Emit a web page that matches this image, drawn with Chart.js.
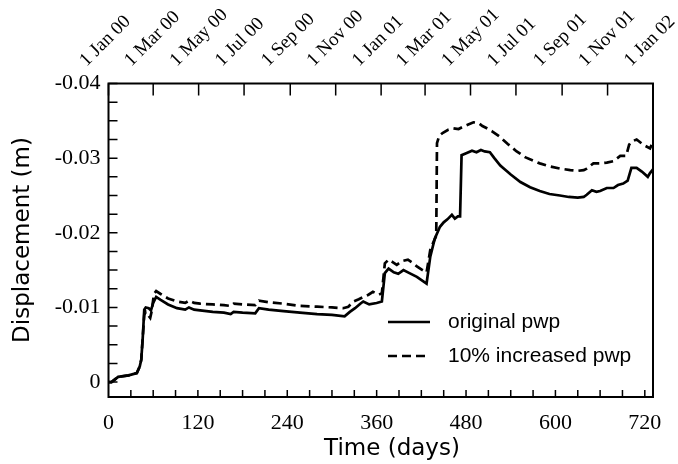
<!DOCTYPE html>
<html>
<head>
<meta charset="utf-8">
<script src="https://cdn.jsdelivr.net/npm/chart.js@4"></script>
<style>
  html, body { margin: 0; padding: 0; background: #fff; }
  #wrap { width: 678px; height: 464px; }
</style>
</head>
<body>
<div id="wrap"><canvas id="dispChart" width="678" height="464"></canvas></div>
<script>
// days since 1 Jan 2000, displacement in m
const origDays = [0, 4, 13, 27, 38, 42, 44, 46, 48, 50, 54, 57, 60, 64, 70, 80, 92, 103, 108, 115, 123, 140, 155, 164, 168, 180, 197, 202, 215, 235, 257, 280, 300, 317, 324, 331, 338, 342, 350, 360, 367, 371, 376, 383, 389, 396, 404, 414, 427, 432, 438, 445, 450, 455, 461, 465, 469, 472, 474, 481, 488, 494, 500, 505, 512, 518, 526, 540, 553, 566, 579, 592, 606, 618, 630, 638, 642, 649, 655, 660, 669, 678, 684, 691, 697, 702, 709, 716, 724, 727, 731];
const origDisp = [0, 0, -0.0007, -0.0009, -0.0012, -0.0021, -0.0030, -0.0060, -0.0097, -0.0100, -0.0099, -0.0096, -0.0106, -0.0114, -0.0110, -0.0104, -0.0099, -0.0097, -0.0100, -0.0097, -0.0096, -0.0094, -0.0093, -0.0091, -0.0094, -0.0093, -0.0092, -0.0099, -0.0097, -0.0095, -0.0093, -0.0091, -0.0090, -0.0088, -0.0094, -0.0099, -0.0105, -0.0108, -0.0104, -0.0106, -0.0108, -0.0146, -0.0152, -0.0147, -0.0145, -0.0150, -0.0146, -0.0141, -0.0132, -0.0168, -0.0192, -0.0208, -0.0214, -0.0218, -0.0224, -0.0219, -0.0222, -0.0222, -0.0304, -0.0307, -0.0310, -0.0308, -0.0311, -0.0309, -0.0308, -0.0300, -0.0290, -0.0278, -0.0268, -0.0261, -0.0256, -0.0252, -0.0250, -0.0248, -0.0247, -0.0248, -0.0251, -0.0257, -0.0255, -0.0256, -0.0260, -0.0260, -0.0264, -0.0266, -0.0270, -0.0287, -0.0287, -0.0282, -0.0275, -0.0280, -0.0285];

const incDays = [0, 4, 13, 27, 38, 42, 44, 46, 48, 50, 53, 56, 58, 61, 64, 70, 80, 92, 103, 108, 115, 123, 140, 155, 164, 168, 180, 197, 202, 215, 235, 257, 280, 300, 315, 322, 329, 336, 342, 349, 355, 363, 367, 371, 376, 381, 387, 394, 402, 408, 414, 420, 427, 432, 436, 440, 441, 444, 449, 456, 463, 470, 476, 483, 490, 497, 502, 508, 515, 525, 536, 548, 560, 579, 592, 606, 620, 630, 638, 642, 651, 660, 669, 678, 687, 695, 699, 702, 709, 718, 727, 731];
const incDisp = [0, 0, -0.0007, -0.0009, -0.0012, -0.0021, -0.0030, -0.0060, -0.0090, -0.0094, -0.0090, -0.0086, -0.0095, -0.0118, -0.0122, -0.0118, -0.0112, -0.0108, -0.0106, -0.0109, -0.0106, -0.0105, -0.0104, -0.0103, -0.0102, -0.0105, -0.0104, -0.0103, -0.0109, -0.0107, -0.0105, -0.0102, -0.0101, -0.0100, -0.0099, -0.0101, -0.0108, -0.0111, -0.0114, -0.0117, -0.0121, -0.0117, -0.0119, -0.0159, -0.0164, -0.0161, -0.0157, -0.0162, -0.0164, -0.0160, -0.0155, -0.0151, -0.0147, -0.0177, -0.0187, -0.0196, -0.0320, -0.0330, -0.0334, -0.0338, -0.0340, -0.0339, -0.0342, -0.0345, -0.0348, -0.0347, -0.0343, -0.0340, -0.0336, -0.0329, -0.0319, -0.0309, -0.0301, -0.0293, -0.0289, -0.0286, -0.0284, -0.0283, -0.0284, -0.0286, -0.0293, -0.0293, -0.0294, -0.0296, -0.0303, -0.0303, -0.0318, -0.0322, -0.0325, -0.0318, -0.0313, -0.0322];

const seriesNames = ["original pwp", "10% increased pwp"];
const yTicks = [-0.04, -0.03, -0.02, -0.01, 0];
const xTicks = [0, 120, 240, 360, 480, 600, 720];
const dateDays = [0, 60, 121, 182, 244, 305, 366, 425, 486, 547, 609, 670, 731];
const dateLabels = ["1 Jan 00", "1 Mar 00", "1 May 00", "1 Jul 00", "1 Sep 00", "1 Nov 00", "1 Jan 01", "1 Mar 01", "1 May 01", "1 Jul 01", "1 Sep 01", "1 Nov 01", "1 Jan 02"];

const serif = "'Liberation Serif', 'Times New Roman', serif";
const sans = "'DejaVu Sans', sans-serif";
const legendFont = "'Liberation Sans', Arial, sans-serif";

// border, inward ticks, top date labels, titles and legend
const framePlugin = {
  id: "frame",
  afterDraw(chart) {
    const { ctx, chartArea: a, scales } = chart;
    const x = scales.x, y = scales.y, xTop = scales.xTop;
    ctx.save();
    ctx.strokeStyle = "#000";
    ctx.fillStyle = "#000";
    ctx.lineWidth = 2;
    ctx.strokeRect(a.left, a.top, a.right - a.left, a.bottom - a.top);

    ctx.lineWidth = 1.5;
    ctx.beginPath();
    for (let v = -0.04; v <= 0.0001; v += 0.0025) {
      const py = y.getPixelForValue(v);
      ctx.moveTo(a.left, py);
      ctx.lineTo(a.left + 9, py);
    }
    for (let d = 30; d <= 720; d += 30) {
      const px = x.getPixelForValue(d);
      ctx.moveTo(px, a.bottom);
      ctx.lineTo(px, a.bottom - 7);
    }
    dateDays.forEach((d) => {
      const px = xTop.getPixelForValue(d);
      ctx.moveTo(px, a.top);
      ctx.lineTo(px, a.top + 12);
    });
    ctx.stroke();

    // rotated date labels, baseline starting left of and below the tick
    ctx.font = "19px " + serif;
    ctx.textAlign = "left";
    ctx.textBaseline = "alphabetic";
    dateDays.forEach((d, i) => {
      const px = xTop.getPixelForValue(d);
      ctx.save();
      ctx.translate(px - 22, 67);
      ctx.rotate(-Math.PI / 4);
      ctx.fillText(dateLabels[i], 0, 0);
      ctx.restore();
    });

    // axis titles
    ctx.textAlign = "center";
    ctx.textBaseline = "middle";
    ctx.font = "23px " + sans;
    ctx.fillText("Time (days)", 392, 449);
    ctx.save();
    ctx.translate(23, 240);
    ctx.rotate(-Math.PI / 2);
    ctx.fillText("Displacement (m)", 0, 0);
    ctx.restore();

    // legend
    ctx.lineWidth = 2.5;
    ctx.beginPath();
    ctx.moveTo(388, 322);
    ctx.lineTo(430, 322);
    ctx.stroke();
    ctx.setLineDash([9, 5]);
    ctx.beginPath();
    ctx.moveTo(388, 356);
    ctx.lineTo(430, 356);
    ctx.stroke();
    ctx.setLineDash([]);
    ctx.font = "21px " + legendFont;
    ctx.textAlign = "left";
    ctx.fillText(seriesNames[0], 448, 322);
    ctx.fillText(seriesNames[1], 448, 356);
    ctx.restore();
  }
};

const ctx = document.getElementById("dispChart").getContext("2d");
new Chart(ctx, {
  type: "line",
  data: {
    datasets: [
      {
        label: seriesNames[0],
        data: origDays.map((d, i) => ({ x: d, y: origDisp[i] })),
        borderColor: "#000",
        borderWidth: 2.7,
        pointRadius: 0,
        tension: 0,
        fill: false,
      },
      {
        label: seriesNames[1],
        data: incDays.map((d, i) => ({ x: d, y: incDisp[i] })),
        borderColor: "#000",
        borderWidth: 2.7,
        borderDash: [9, 5],
        pointRadius: 0,
        tension: 0,
        fill: false,
      },
    ],
  },
  options: {
    responsive: false,
    devicePixelRatio: 1,
    animation: false,
    layout: { padding: { left: 0, right: 25, top: 0, bottom: 0 } },
    plugins: {
      legend: { display: false },
      tooltip: { enabled: false },
    },
    scales: {
      x: {
        type: "linear",
        position: "bottom",
        min: 0,
        max: 731,
        grid: { display: false, drawTicks: false },
        border: { display: false },
        afterBuildTicks: (s) => { s.ticks = xTicks.map((v) => ({ value: v })); },
        afterFit: (s) => { s.height = 67; },
        ticks: {
          padding: 13,
          maxRotation: 0,
          color: "#000",
          font: { family: serif, size: 22 },
        },
      },
      xTop: {
        type: "linear",
        position: "top",
        min: 0,
        max: 731,
        grid: { display: false, drawTicks: false },
        border: { display: false },
        ticks: { display: false },
        afterFit: (s) => { s.height = 83.5; },
      },
      y: {
        type: "linear",
        reverse: true,
        min: -0.04,
        max: 0.002,
        grid: { display: false, drawTicks: false },
        border: { display: false },
        afterBuildTicks: (s) => { s.ticks = yTicks.map((v) => ({ value: v })); },
        afterFit: (s) => { s.width = 108.5; },
        ticks: {
          padding: 8,
          color: "#000",
          font: { family: serif, size: 22 },
          callback: (v) => (v === 0 ? "0" : v.toFixed(2)),
        },
      },
    },
  },
  plugins: [framePlugin],
});
</script>
</body>
</html>
